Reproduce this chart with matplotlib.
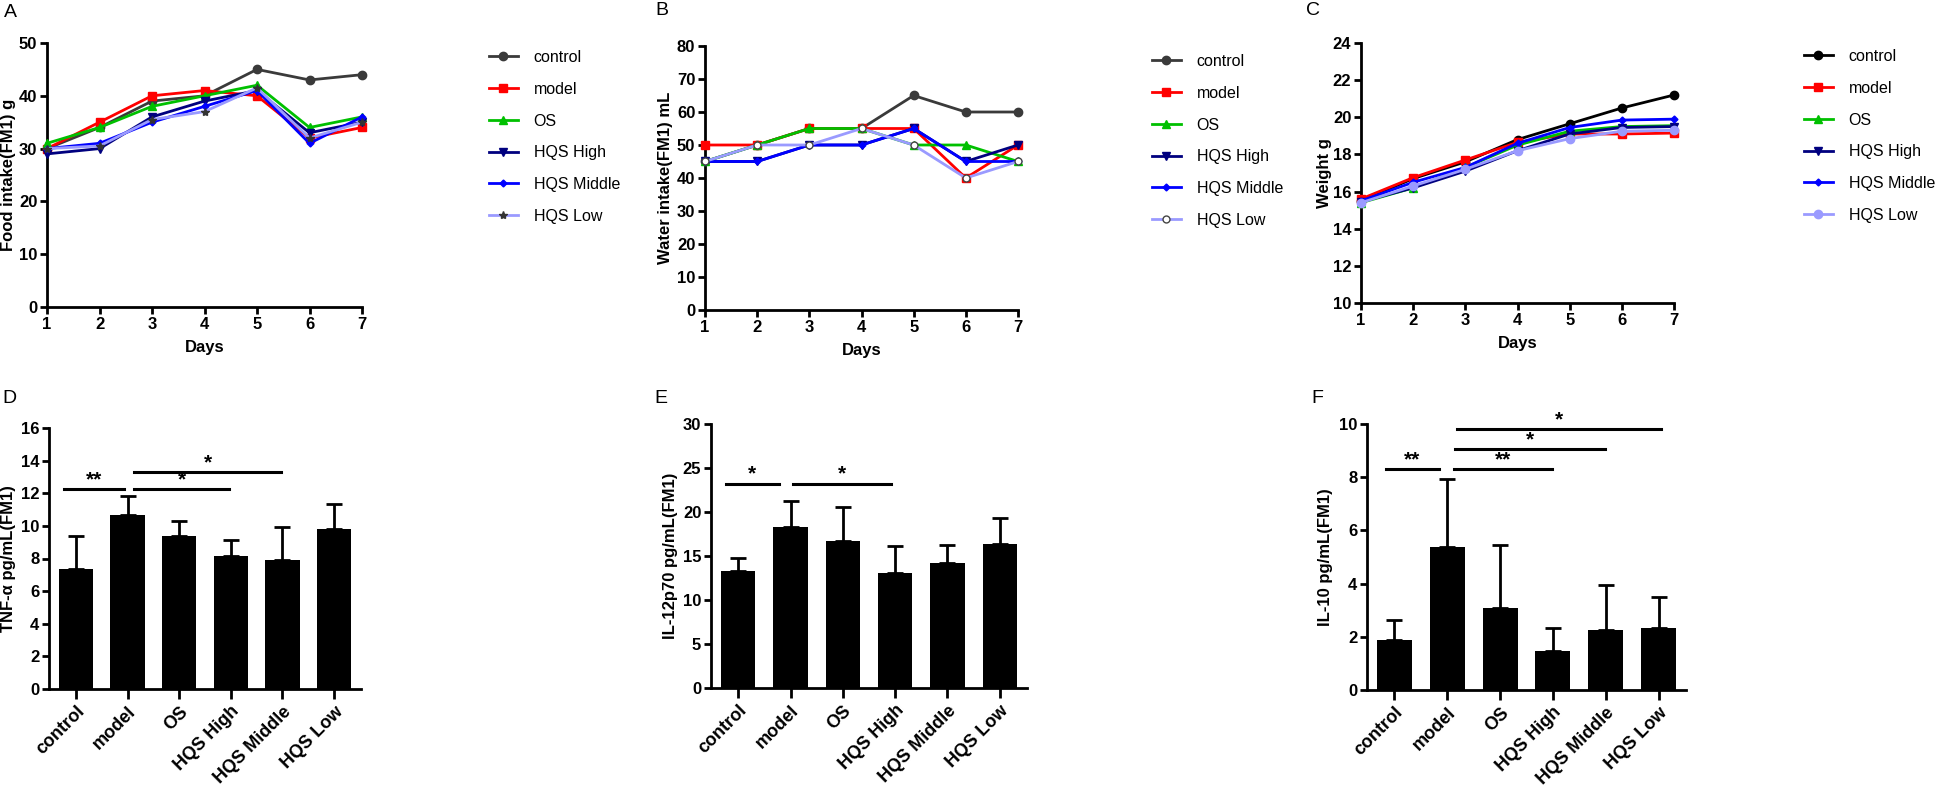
import numpy as np
import matplotlib

matplotlib.use("Agg")
import matplotlib.pyplot as plt

plt.rcParams["font.family"] = ["Liberation Sans", "DejaVu Sans"]

W, H = 1944, 789

# ── Data ────────────────────────────────────────────────────────
days = [1, 2, 3, 4, 5, 6, 7]
groups = ["control", "model", "OS", "HQS High", "HQS Middle", "HQS Low"]

food_control = [30, 34, 39, 40, 45, 43, 44]
food_model = [30, 35, 40, 41, 40, 32, 34]
food_os = [31, 34, 38, 40, 42, 34, 36]
food_high = [29, 30, 36, 39, 41, 33, 35]
food_middle = [30, 31, 35, 38, 41, 31, 36]
food_low = [30, 30.5, 35.5, 37, 41.5, 32, 35]

water_control = [45, 50, 55, 55, 65, 60, 60]
water_model = [50, 50, 55, 55, 55, 40, 50]
water_os = [45, 50, 55, 55, 50, 50, 45]
water_high = [45, 45, 50, 50, 55, 45, 50]
water_middle = [45, 45, 50, 50, 55, 45, 45]
water_low = [45, 50, 50, 55, 50, 40, 45]

weight_control = [15.5, 16.7, 17.6, 18.8, 19.65, 20.5, 21.2]
weight_model = [15.6, 16.75, 17.7, 18.65, 19.1, 19.1, 19.15]
weight_os = [15.4, 16.2, 17.3, 18.5, 19.25, 19.5, 19.55]
weight_high = [15.45, 16.2, 17.1, 18.2, 19.1, 19.45, 19.5]
weight_middle = [15.5, 16.5, 17.3, 18.6, 19.45, 19.85, 19.9]
weight_low = [15.4, 16.3, 17.2, 18.2, 18.85, 19.25, 19.3]

tnf_mean = [7.36, 10.67, 9.38, 8.17, 7.89, 9.83]
tnf_err = [2.02, 1.18, 0.94, 0.98, 2.06, 1.51]
il12_mean = [13.24, 18.31, 16.69, 13.02, 14.23, 16.42]
il12_err = [1.55, 2.99, 3.93, 3.17, 2.0, 2.88]
il10_mean = [1.88, 5.38, 3.10, 1.48, 2.24, 2.34]
il10_err = [0.77, 2.56, 2.34, 0.86, 1.69, 1.16]

# significance bars: (x start, x end, y, label)
tnf_sig = [(-0.22, 0.93, 12.26, "**"), (1.12, 2.97, 12.26, "*"), (1.12, 3.98, 13.3, "*")]
il12_sig = [(-0.24, 0.78, 23.23, "*"), (1.04, 2.93, 23.23, "*")]
il10_sig = [(-0.16, 0.84, 8.29, "**"), (1.12, 2.98, 8.29, "**"),
            (1.15, 3.99, 9.06, "*"), (1.18, 5.04, 9.80, "*")]

# ── Styles ─────────────────────────────────────────────────────
LOW_C = "#9a9aff"
line_styles = {
    "control": dict(color="#3a3a3a", marker="o", ms=6),
    "model": dict(color="#ff0000", marker="s", ms=6),
    "OS": dict(color="#00c000", marker="^", ms=6),
    "HQS High": dict(color="#00007f", marker="v", ms=6),
    "HQS Middle": dict(color="#0000ff", marker="D", ms=3.5),
}


def px_axes(fig, left, right, top, bottom):
    return fig.add_axes([left / W, 1 - bottom / H, (right - left) / W, (bottom - top) / H])


def style_axes(ax, fig, ylabel, label_right):
    for s in ("top", "right"):
        ax.spines[s].set_visible(False)
    for s in ("left", "bottom"):
        ax.spines[s].set_linewidth(2.0)
    ax.tick_params(direction="out", width=2.0, length=5, labelsize=12, pad=2)
    for lab in ax.get_xticklabels() + ax.get_yticklabels():
        lab.set_fontweight("bold")
    ax.set_ylabel(ylabel, fontsize=12, fontweight="bold")
    # y label placed by its right edge, in figure pixels
    bb = ax.get_position()
    ax.yaxis.set_label_coords(label_right / W, bb.y0 + bb.height / 2,
                              transform=fig.transFigure)


def line_panel(fig, box, series, low_style, ylim, yticks, ylabel, label_right,
               legend_xy, control_color=None):
    ax = px_axes(fig, *box)
    for name, ys in zip(groups, series):
        if name == "HQS Low":
            st = low_style
        else:
            st = dict(line_styles[name])
            if name == "control" and control_color:
                st["color"] = control_color
        ax.plot(days, ys, lw=2.0, label=name, clip_on=False, zorder=3, **st)
    ax.set_xlim(1, 7)
    ax.set_ylim(*ylim)
    ax.set_xticks(days)
    ax.set_yticks(yticks)
    ax.set_xlabel("Days", fontsize=12, fontweight="bold", labelpad=6)
    style_axes(ax, fig, ylabel, label_right)
    ax.legend(loc="upper left", bbox_to_anchor=(legend_xy[0] / W, 1 - legend_xy[1] / H),
              bbox_transform=fig.transFigure, frameon=False, fontsize=11.5,
              handlelength=1.8, handletextpad=1.0, labelspacing=1.05,
              borderpad=0, borderaxespad=0)
    return ax


def bar_panel(fig, box, means, errs, sigs, ylim, yticks, ylabel, label_right):
    ax = px_axes(fig, *box)
    x = np.arange(len(groups))
    ax.bar(x, means, width=0.66, color="black", zorder=2)
    ax.errorbar(x, means, yerr=[np.zeros(len(errs)), errs], fmt="none",
                ecolor="black", elinewidth=2.0, capsize=6, capthick=2.0, zorder=1)
    for x0, x1, y, lab in sigs:
        ax.plot([x0, x1], [y, y], color="black", lw=2.2, clip_on=False)
        ax.text((x0 + x1) / 2, y, lab, ha="center", va="bottom", fontsize=15,
                fontweight="bold")
    ax.set_xlim(-0.52, 5.52)
    ax.set_ylim(*ylim)
    ax.set_yticks(yticks)
    ax.set_xticks(x)
    ax.set_xticklabels(groups, rotation=45, ha="right", rotation_mode="anchor")
    style_axes(ax, fig, ylabel, label_right)
    ax.tick_params(axis="x", length=7, labelsize=13, pad=3)
    return ax


fig = plt.figure(figsize=(W / 100, H / 100), dpi=100)

line_panel(fig, (47, 362, 43, 307),
           [food_control, food_model, food_os, food_high, food_middle, food_low],
           dict(color=LOW_C, marker="*", ms=6, mfc="#333333", mec="#333333"),
           (0, 50), range(0, 51, 10), "Food intake(FM1) g", 16, (489, 50))

line_panel(fig, (705, 1018, 46, 310),
           [water_control, water_model, water_os, water_high, water_middle, water_low],
           dict(color=LOW_C, marker="o", ms=5, mfc="white", mec="#444444", mew=1.0),
           (0, 80), range(0, 81, 10), "Water intake(FM1) mL", 673, (1152, 54))

line_panel(fig, (1361, 1674, 43, 303),
           [weight_control, weight_model, weight_os, weight_high, weight_middle, weight_low],
           dict(color=LOW_C, marker="o", ms=6),
           (10, 24), range(10, 25, 2), "Weight g", 1332, (1804, 49), control_color="black")

bar_panel(fig, (49, 361, 428, 689), tnf_mean, tnf_err, tnf_sig,
          (0, 16), range(0, 17, 2), "TNF-α pg/mL(FM1)", 16)
bar_panel(fig, (711, 1027, 424, 688), il12_mean, il12_err, il12_sig,
          (0, 30), range(0, 31, 5), "IL-12p70 pg/mL(FM1)", 678)
bar_panel(fig, (1367, 1686, 424, 690), il10_mean, il10_err, il10_sig,
          (0, 10), range(0, 11, 2), "IL-10 pg/mL(FM1)", 1333)

for lab, (lx, ly) in zip("ABCDEF", [(4, 4), (655, 2), (1306, 2), (2, 390), (654, 390), (1311, 390)]):
    fig.text(lx / W, 1 - ly / H, lab, fontsize=14, va="top", ha="left")

fig.savefig("out.png", dpi=100)
